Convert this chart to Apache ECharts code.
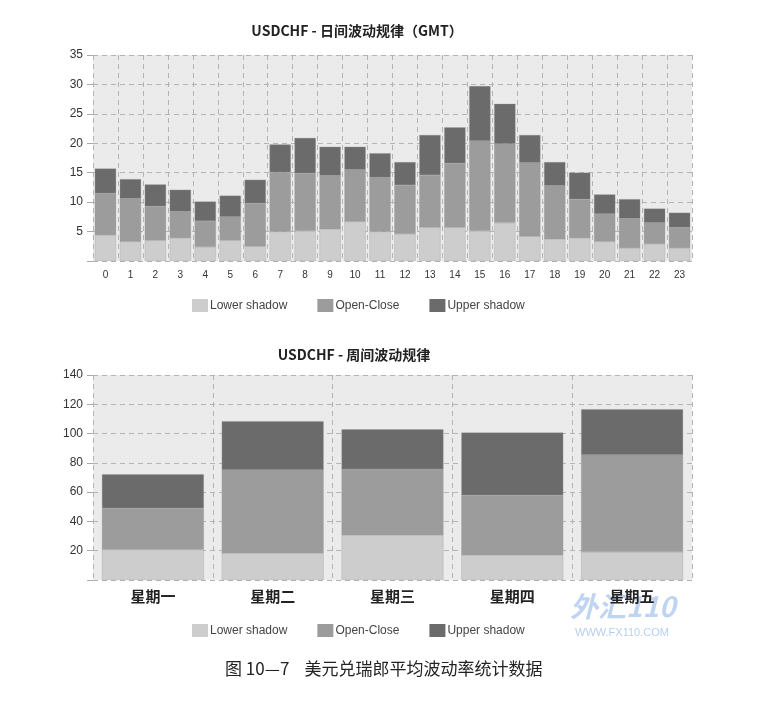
<!doctype html>
<html lang="zh">
<head>
    <meta charset="UTF-8">
    <title>USDCHF 波动规律</title>
    <style>
        html, body { margin: 0; padding: 0; background: #fff; }
        #chart { width: 767px; height: 711px; }
    </style>
</head>
<body>
<div id="chart"></div>
<script src="https://cdn.jsdelivr.net/npm/echarts@6/dist/echarts.min.js"></script>
<script>
    // 日间 (GMT 小时)
    var hours = ['0', '1', '2', '3', '4', '5', '6', '7', '8', '9', '10', '11',
        '12', '13', '14', '15', '16', '17', '18', '19', '20', '21', '22', '23'];
    var hourLower = [4.4, 3.3, 3.5, 3.9, 2.4, 3.5, 2.5, 5.0, 5.1, 5.4, 6.7, 5.0,
        4.6, 5.7, 5.7, 5.1, 6.5, 4.2, 3.7, 3.9, 3.3, 2.2, 2.9, 2.2];
    var hourOpenClose = [7.1, 7.3, 5.8, 4.5, 4.4, 4.0, 7.3, 10.1, 9.8, 9.1, 8.8, 9.2,
        8.3, 8.9, 10.9, 15.3, 13.4, 12.5, 9.1, 6.6, 4.7, 5.0, 3.6, 3.5];
    var hourUpper = [4.2, 3.3, 3.7, 3.7, 3.3, 3.6, 4.0, 4.7, 6.0, 4.9, 3.9, 4.1,
        3.9, 6.8, 6.1, 9.3, 6.8, 4.7, 4.0, 4.5, 3.3, 3.3, 2.4, 2.5];

    // 周间
    var weekdays = ['星期一', '星期二', '星期三', '星期四', '星期五'];
    var weekLower = [20.8, 18.3, 30.6, 17.0, 19.2];
    var weekOpenClose = [28.3, 56.9, 45.0, 41.0, 66.2];
    var weekUpper = [23.1, 33.2, 27.2, 42.7, 31.2];

    var seriesNames = ['Lower shadow', 'Open-Close', 'Upper shadow'];
    var colors = ['#cdcdcd', '#9c9c9c', '#6b6b6b'];

    var sans = '"Liberation Sans", Arial, sans-serif';
    var cjk = '"Noto Sans CJK SC", sans-serif';

    function valueAxis(gridIndex, max, interval) {
        return {
            type: 'value',
            gridIndex: gridIndex,
            min: 0,
            max: max,
            interval: interval,
            axisLine: {show: false},
            axisTick: {show: true, length: 6, lineStyle: {color: '#aaa'}},
            axisLabel: {
                color: '#333', fontSize: 12, fontFamily: sans, margin: 10,
                formatter: function (v) { return v === 0 ? '' : v; }
            },
            splitLine: {lineStyle: {color: '#b4b4b4', type: [5, 4]}}
        };
    }

    function catAxis(gridIndex, data, label) {
        return {
            type: 'category',
            gridIndex: gridIndex,
            data: data,
            axisLine: {show: false},
            axisTick: {show: false},
            axisLabel: label,
            splitLine: {show: true, lineStyle: {color: '#b4b4b4', type: [5, 4]}}
        };
    }

    function stackSeries(idx, lists, stack) {
        return lists.map(function (arr, i) {
            return {
                name: seriesNames[i],
                type: 'bar',
                stack: stack,
                xAxisIndex: idx,
                yAxisIndex: idx,
                barWidth: '85%',
                itemStyle: {color: colors[i], borderColor: '#999', borderWidth: 0.3},
                data: arr
            };
        });
    }

    function legend(top) {
        return {
            left: 192,
            top: top,
            padding: 0,
            itemWidth: 16,
            itemHeight: 13,
            itemGap: 30,
            icon: 'rect',
            itemStyle: {borderWidth: 0},
            textStyle: {color: '#444', fontSize: 12, fontFamily: sans, padding: [0, 0, 0, -3]},
            data: seriesNames
        };
    }

    var chart = echarts.init(document.getElementById('chart'));
    chart.setOption({
        animation: false,
        backgroundColor: '#fff',
        title: [{
            text: 'USDCHF - 日间波动规律（GMT）',
            left: 352, top: 19, textAlign: 'center',
            textStyle: {fontSize: 14, fontWeight: 'bold', color: '#222', fontFamily: cjk}
        }, {
            text: 'USDCHF - 周间波动规律',
            left: 349, top: 343, textAlign: 'center',
            textStyle: {fontSize: 14, fontWeight: 'bold', color: '#222', fontFamily: cjk}
        }],
        legend: [legend(299), legend(624)],
        grid: [
            {left: 93, right: 75, top: 55, height: 206, show: true, backgroundColor: '#ebebeb', borderWidth: 0},
            {left: 93, right: 75, top: 375, height: 205, show: true, backgroundColor: '#ebebeb', borderWidth: 0}
        ],
        xAxis: [
            catAxis(0, hours, {color: '#333', fontSize: 10, fontFamily: sans, margin: 9, interval: 0}),
            catAxis(1, weekdays, {color: '#222', fontSize: 15, fontWeight: 'bold', fontFamily: cjk, margin: 9})
        ],
        yAxis: [valueAxis(0, 35, 5), valueAxis(1, 140, 20)],
        series: stackSeries(0, [hourLower, hourOpenClose, hourUpper], 'hour')
            .concat(stackSeries(1, [weekLower, weekOpenClose, weekUpper], 'week')),
        graphic: [{
            type: 'text',
            left: 225, top: 660,
            style: {text: '图 10—7    美元兑瑞郎平均波动率统计数据', font: '17px ' + cjk, fill: '#222'}
        }, {
            type: 'text',
            left: 570, top: 592,
            style: {text: '外汇110', font: 'italic bold 28px ' + cjk, fill: 'rgba(110,160,225,0.45)'}
        }, {
            type: 'text',
            left: 575, top: 627,
            style: {text: 'WWW.FX110.COM', font: '11px ' + sans, fill: 'rgba(110,160,225,0.5)'}
        }]
    });
</script>
</body>
</html>
